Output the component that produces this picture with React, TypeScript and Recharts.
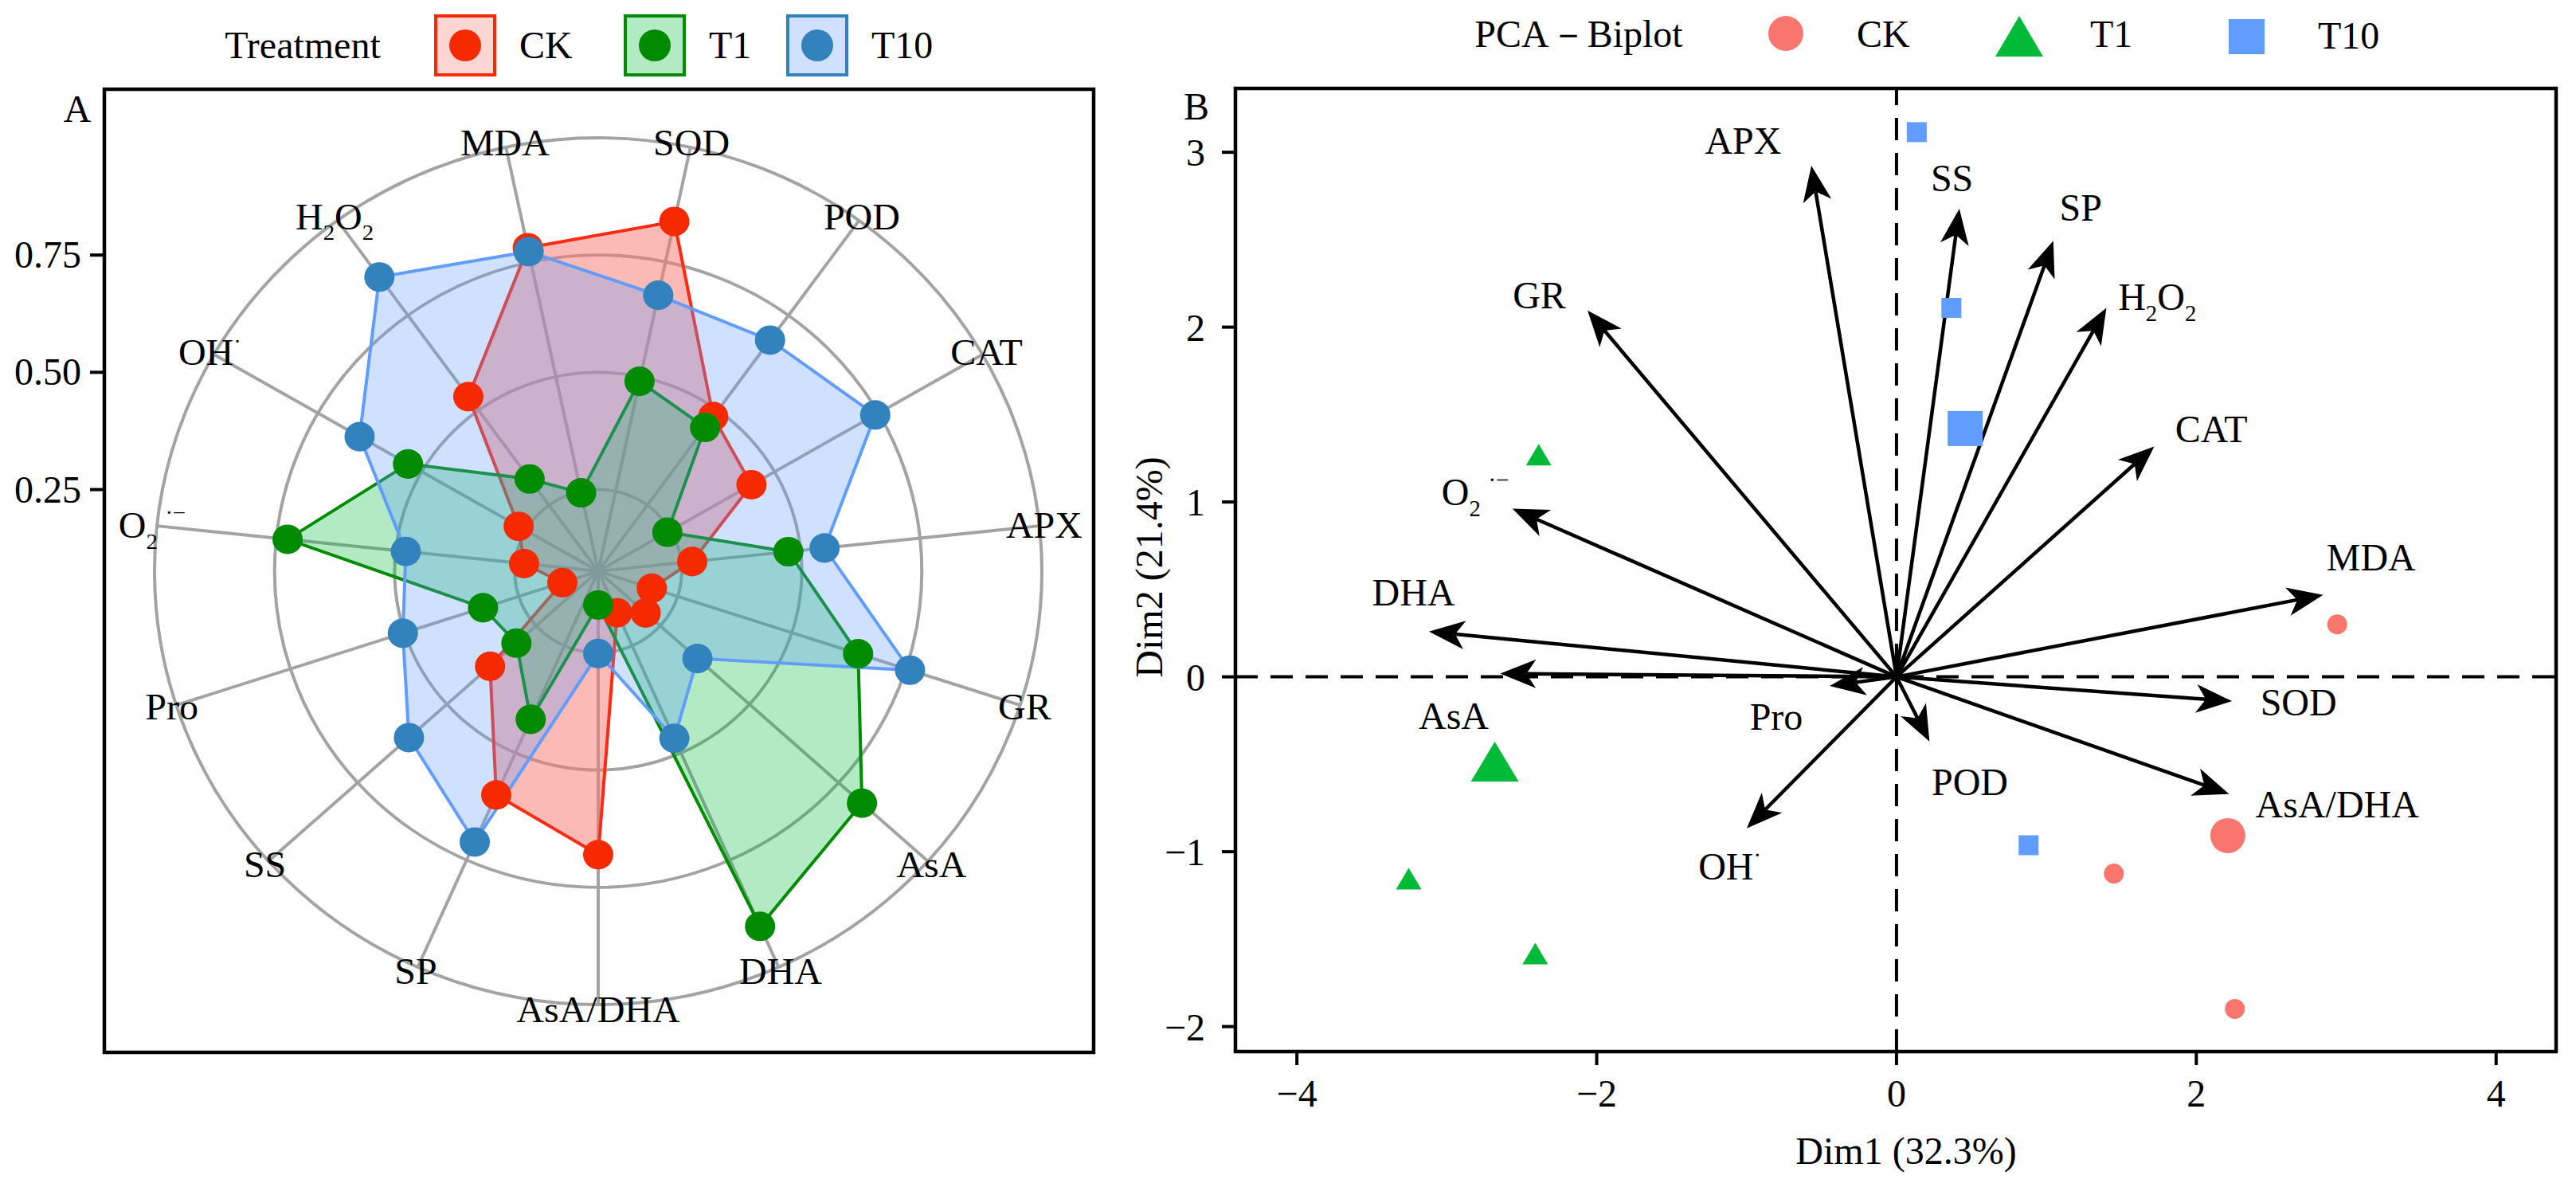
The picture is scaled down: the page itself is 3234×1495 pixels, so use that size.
import React from "react";
import {
  RadarChart,
  Radar,
  PolarGrid,
  PolarAngleAxis,
  PolarRadiusAxis,
  ScatterChart,
  Scatter,
  XAxis,
  YAxis,
  ReferenceLine,
} from "recharts";

const FONT = "'Liberation Serif', 'Times New Roman', serif";
const FS = 48;

// ---------- panel A: radar of normalised indices ----------
const variables = ["SOD", "POD", "CAT", "APX", "GR", "AsA", "DHA", "AsA/DHA", "SP", "SS", "Pro", "O2", "OH", "H2O2", "MDA"];
const ckValues = [0.825, 0.441, 0.399, 0.213, 0.127, 0.144, 0.105, 0.654, 0.565, 0.328, 0.085, 0.168, 0.207, 0.498, 0.763];
const t1Values = [0.448, 0.41, 0.18, 0.431, 0.616, 0.8, 0.897, 0.078, 0.374, 0.248, 0.273, 0.704, 0.495, 0.263, 0.185];
const t10Values = [0.651, 0.659, 0.721, 0.513, 0.739, 0.301, 0.422, 0.19, 0.684, 0.574, 0.463, 0.436, 0.621, 0.839, 0.754];
const radialTicks = [0.25, 0.5, 0.75];
const gridValues = [0.25, 0.5, 0.75, 1];

// ---------- panel B: PCA biplot ----------
const ckDim1 = [2.94, 1.45, 2.257];
const ckDim2 = [0.3, -1.125, -1.899];
const t1Dim1 = [-2.387, -3.254, -2.41];
const t1Dim2 = [1.27, -1.154, -1.583];
const t10Dim1 = [0.135, 0.366, 0.881];
const t10Dim2 = [3.115, 2.11, -0.963];
// group mean points (the big markers)
const meanDim1 = [2.21, -2.68, 0.458];
const meanDim2 = [-0.908, -0.485, 1.42];

const varNames = ["APX", "SS", "SP", "H2O2", "CAT", "MDA", "SOD", "AsA/DHA", "POD", "Pro", "OH", "DHA", "AsA", "GR", "O2"];
const varDim1 = [-0.568, 0.419, 1.046, 1.4, 1.719, 2.846, 2.238, 2.219, 0.22, -0.446, -0.999, -3.119, -2.644, -2.061, -2.562];
const varDim2 = [2.923, 2.677, 2.494, 2.11, 1.317, 0.469, -0.139, -0.67, -0.37, -0.052, -0.866, 0.259, 0.019, 2.095, 0.962];
const labelDim1 = [-1.023, 0.37, 1.229, 1.739, 2.1, 3.166, 2.682, 2.94, 0.489, -0.802, -1.112, -3.222, -2.954, -2.383, -2.81];
const labelDim2 = [3.064, 2.853, 2.683, 2.171, 1.416, 0.681, -0.148, -0.731, -0.601, -0.23, -1.083, 0.482, -0.225, 2.182, 1.055];

const dim1Ticks = [-4, -2, 0, 2, 4];
const dim2Ticks = [-2, -1, 0, 1, 2, 3];

// ---------- colours ----------
const CK_DOT = "#F52A00";
const T1_DOT = "#008B00";
const T10_DOT = "#3182BD";

// ---------- layout ----------
const RADAR = { left: 131, top: 112, width: 1242, height: 1209, cx: 620, cy: 605, r: 557, squash: 0.9767 };
const RMIN = 0.076;
const radiusOf = (v: number) => (RADAR.r * (v - RMIN)) / (1 - RMIN);

const radarData = variables.map((name, i) => ({
  axis: name,
  CK: ckValues[i],
  T1: t1Values[i],
  T10: t10Values[i],
}));

const toPoints = (xs: number[], ys: number[]) => xs.map((x, i) => ({ x, y: ys[i] }));
const ckPoints = toPoints(ckDim1, ckDim2);
const t1Points = toPoints(t1Dim1, t1Dim2);
const t10Points = toPoints(t10Dim1, t10Dim2);
const ckMean = [{ x: meanDim1[0], y: meanDim2[0] }];
const t1Mean = [{ x: meanDim1[1], y: meanDim2[1] }];
const t10Mean = [{ x: meanDim1[2], y: meanDim2[2] }];
const labelPoints = varNames.map((name, i) => ({ x: labelDim1[i], y: labelDim2[i], name }));

const minus = (v: number) => (v < 0 ? `\u2212${Math.abs(v)}` : `${v}`);

function ChemText({ name, x, y, size, anchor = "middle" }: any) {
  const s = size * 0.6;
  const base = {
    x,
    y: y + size * 0.34,
    textAnchor: anchor,
    fontFamily: FONT,
    fontSize: size,
    fill: "#000",
  };
  if (name === "H2O2")
    return (
      <text {...base}>
        H<tspan dy={size * 0.28} fontSize={s}>2</tspan>
        <tspan dy={-size * 0.28}>O</tspan>
        <tspan dy={size * 0.28} fontSize={s}>2</tspan>
      </text>
    );
  if (name === "O2")
    return (
      <text {...base}>
        O<tspan dy={size * 0.28} fontSize={s}>2</tspan>
        <tspan dx={size * 0.2} dy={-size * 0.75} fontSize={s}>·−</tspan>
      </text>
    );
  if (name === "OH")
    return (
      <text {...base}>
        OH<tspan dy={-size * 0.42} fontSize={s}>·</tspan>
      </text>
    );
  return <text {...base}>{name}</text>;
}

const AngleTick = (props: any) => {
  const { x, y, payload } = props;
  return <ChemText name={payload.value} x={x} y={y} size={FS} />;
};

const LabelShape = (props: any) => {
  const name = props.payload?.name ?? props.name;
  return <ChemText name={name} x={props.cx} y={props.cy} size={FS} />;
};

const circleShape = (r: number) => (p: any) => <circle cx={p.cx} cy={p.cy} r={r} fill="#F8766D" />;
const triangleShape = (w: number, h: number) => (p: any) => (
  <polygon
    points={`${p.cx},${p.cy - h / 2} ${p.cx - w / 2},${p.cy + h / 2} ${p.cx + w / 2},${p.cy + h / 2}`}
    fill="#00BA38"
  />
);
const squareShape = (a: number) => (p: any) => (
  <rect x={p.cx - a / 2} y={p.cy - a / 2} width={a} height={a} fill="#619CFF" />
);

const ArrowShape = (props: any) => {
  const { x1, y1, x2, y2 } = props;
  const dx = x2 - x1;
  const dy = y2 - y1;
  const len = Math.hypot(dx, dy) || 1;
  const ux = dx / len;
  const uy = dy / len;
  const nx = -uy;
  const ny = ux;
  const headLen = 45;
  const headW = 18;
  const notch = 33;
  const bx = x2 - ux * headLen;
  const by = y2 - uy * headLen;
  const mx = x2 - ux * notch;
  const my = y2 - uy * notch;
  return (
    <g>
      <line x1={x1} y1={y1} x2={mx} y2={my} stroke="#000" strokeWidth={4.5} />
      <polygon
        points={`${x2},${y2} ${bx + nx * headW},${by + ny * headW} ${mx},${my} ${bx - nx * headW},${by - ny * headW}`}
        fill="#000"
      />
    </g>
  );
};

const axisTick = { fontSize: FS, fill: "#000", fontFamily: FONT };
const tickLine = { stroke: "#000", strokeWidth: 4 };

export default function App() {
  const radarCyPage = RADAR.top + RADAR.cy;
  const legendA = [
    { name: "CK", x: 545, dot: CK_DOT, fill: "rgba(248,118,109,0.3)" },
    { name: "T1", x: 783, dot: T1_DOT, fill: "rgba(0,186,56,0.3)" },
    { name: "T10", x: 987, dot: T10_DOT, fill: "rgba(97,156,255,0.3)" },
  ];
  const textProps = { fontFamily: FONT, fontSize: FS, fill: "#000" };

  return (
    <div style={{ position: "absolute", left: 0, top: 0, width: 3234, height: 1495, background: "#fff" }}>
      {/* panel A */}
      <div
        style={{
          position: "absolute",
          left: RADAR.left,
          top: RADAR.top,
          width: RADAR.width,
          height: RADAR.height,
          transform: `scaleY(${RADAR.squash})`,
          transformOrigin: `${RADAR.cx}px ${RADAR.cy}px`,
        }}
      >
        <RadarChart
          width={RADAR.width}
          height={RADAR.height}
          data={radarData}
          cx={RADAR.cx}
          cy={RADAR.cy}
          outerRadius={RADAR.r}
          startAngle={78}
          endAngle={-282}
          margin={{ top: 0, right: 0, bottom: 0, left: 0 }}
        >
          <PolarGrid
            gridType="circle"
            polarRadius={gridValues.map(radiusOf)}
            stroke="#A3A3A3"
            strokeWidth={4}
            fill="none"
          />
          <PolarAngleAxis dataKey="axis" tick={AngleTick} tickLine={false} axisLine={false} tickSize={6} />
          <PolarRadiusAxis domain={[RMIN, 1]} allowDataOverflow tick={false} axisLine={false} />
          <Radar dataKey="CK" stroke="#FF2A12" strokeWidth={4} fill="#F8766D" fillOpacity={0.5} dot={false} isAnimationActive={false} />
          <Radar dataKey="T1" stroke="#008B00" strokeWidth={4} fill="#00BA38" fillOpacity={0.3} dot={false} isAnimationActive={false} />
          <Radar dataKey="T10" stroke="#619CFF" strokeWidth={4} fill="#619CFF" fillOpacity={0.3} dot={false} isAnimationActive={false} />
          <Radar dataKey="CK" stroke="none" fill="none" dot={{ r: 19, fill: CK_DOT, stroke: "none", fillOpacity: 1 }} isAnimationActive={false} />
          <Radar dataKey="T1" stroke="none" fill="none" dot={{ r: 19, fill: T1_DOT, stroke: "none", fillOpacity: 1 }} isAnimationActive={false} />
          <Radar dataKey="T10" stroke="none" fill="none" dot={{ r: 19, fill: T10_DOT, stroke: "none", fillOpacity: 1 }} isAnimationActive={false} />
        </RadarChart>
      </div>

      {/* panel B */}
      <div style={{ position: "absolute", left: 1351, top: 60 }}>
        <ScatterChart width={1883} height={1435} margin={{ top: 51, right: 25, bottom: 75, left: 80 }}>
          <XAxis
            type="number"
            dataKey="x"
            domain={[-4.41, 4.4]}
            allowDataOverflow
            ticks={dim1Ticks}
            tickFormatter={minus}
            tick={axisTick}
            tickLine={tickLine}
            tickSize={17}
            tickMargin={18}
            axisLine={false}
            height={100}
          />
          <YAxis
            type="number"
            dataKey="y"
            domain={[-2.143, 3.365]}
            allowDataOverflow
            ticks={dim2Ticks}
            tickFormatter={minus}
            tick={axisTick}
            tickLine={tickLine}
            tickSize={17}
            tickMargin={21}
            axisLine={false}
            width={120}
          />
          <ReferenceLine x={0} stroke="#000" strokeWidth={4} strokeDasharray="28 16" />
          <ReferenceLine y={0} stroke="#000" strokeWidth={4} strokeDasharray="28 16" />
          <Scatter data={ckPoints} shape={circleShape(12.5)} isAnimationActive={false} />
          <Scatter data={t1Points} shape={triangleShape(32, 27)} isAnimationActive={false} />
          <Scatter data={t10Points} shape={squareShape(25)} isAnimationActive={false} />
          <Scatter data={ckMean} shape={circleShape(22)} isAnimationActive={false} />
          <Scatter data={t1Mean} shape={triangleShape(60, 50)} isAnimationActive={false} />
          <Scatter data={t10Mean} shape={squareShape(44)} isAnimationActive={false} />
          {varNames.map((name, i) => (
            <ReferenceLine
              key={name}
              segment={[
                { x: 0, y: 0 },
                { x: varDim1[i], y: varDim2[i] },
              ]}
              shape={ArrowShape}
              ifOverflow="visible"
            />
          ))}
          <Scatter data={labelPoints} shape={LabelShape} isAnimationActive={false} />
        </ScatterChart>
      </div>

      {/* frames, legends, titles */}
      <svg width={3234} height={1495} style={{ position: "absolute", left: 0, top: 0, pointerEvents: "none" }}>
        <rect x={131} y={112} width={1242} height={1209} fill="none" stroke="#000" strokeWidth={4.5} />
        <rect x={1551} y={111} width={1658} height={1209} fill="none" stroke="#000" strokeWidth={4.5} />

        <text {...textProps} x={97} y={153} textAnchor="middle">A</text>
        <text {...textProps} x={1502} y={150} textAnchor="middle">B</text>

        {radialTicks.map((v) => {
          const y = radarCyPage - radiusOf(v) * RADAR.squash;
          return (
            <g key={v}>
              <line x1={113} x2={131} y1={y} y2={y} stroke="#000" strokeWidth={4} />
              <text {...textProps} x={102} y={y + 16} textAnchor="end">{v.toFixed(2)}</text>
            </g>
          );
        })}

        {/* legend A */}
        <text {...textProps} x={380} y={73} textAnchor="middle">Treatment</text>
        {legendA.map((l) => (
          <g key={l.name}>
            <rect x={l.x + 2} y={20} width={74} height={74} fill={l.fill} stroke={l.dot} strokeWidth={4} />
            <circle cx={l.x + 39} cy={57} r={20} fill={l.dot} />
            <text {...textProps} x={l.x + 107} y={73}>{l.name}</text>
          </g>
        ))}

        {/* legend B */}
        <text {...textProps} x={1982} y={59} textAnchor="middle">PCA－Biplot</text>
        <circle cx={2242} cy={42} r={22} fill="#F8766D" />
        <text {...textProps} x={2331} y={59}>CK</text>
        <polygon points="2535,20 2505,71 2565,71" fill="#00BA38" />
        <text {...textProps} x={2624} y={59}>T1</text>
        <rect x={2798} y={24} width={45} height={44} fill="#619CFF" />
        <text {...textProps} x={2910} y={61}>T10</text>

        {/* axis titles B */}
        <text {...textProps} x={2393} y={1461} textAnchor="middle">Dim1 (32.3%)</text>
        <text {...textProps} x={1443} y={712} dy={16} textAnchor="middle" transform="rotate(-90 1443 712)">
          Dim2 (21.4%)
        </text>
      </svg>
    </div>
  );
}
